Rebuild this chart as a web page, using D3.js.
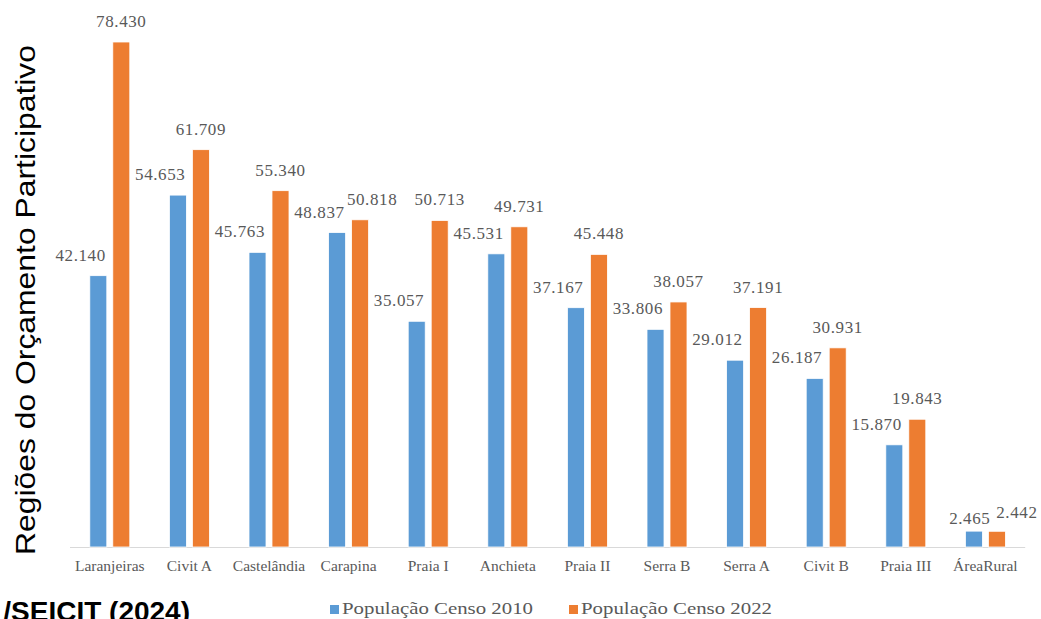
<!DOCTYPE html>
<html>
<head>
<meta charset="utf-8">
<script src="https://cdn.jsdelivr.net/npm/d3@7"></script>
<style>
  body { margin: 0; background: #fff; }
  svg { display: block; }
</style>
</head>
<body>
<div id="chart"></div>
<script>
// categories and values (population)
var regions = ["Laranjeiras", "Civit A", "Castelândia", "Carapina", "Praia I", "Anchieta",
  "Praia II", "Serra B", "Serra A", "Civit B", "Praia III", "ÁreaRural"];
var censo2010 = [42140, 54653, 45763, 48837, 35057, 45531, 37167, 33806, 29012, 26187, 15870, 2465];
var censo2022 = [78430, 61709, 55340, 50818, 50713, 49731, 45448, 38057, 37191, 30931, 19843, 2442];
var seriesNames = ["População Censo 2010", "População Censo 2022"];
var colors = ["#5B9BD5", "#ED7D31"];

var width = 1041, height = 619;
var base = 547;
var serif = "'Liberation Serif', 'Times New Roman', serif";
var sans = "'Liberation Sans', Arial, sans-serif";

var fmt = function(v) { return d3.format(",")(v).replace(/,/g, "."); };

var svg = d3.select("#chart").append("svg")
    .attr("width", width)
    .attr("height", height);

var x0 = d3.scaleBand().domain(regions).range([70, 1025.2]);
var x1 = d3.scaleBand().domain([0, 1])
    .range([x0.bandwidth() / 2 - 20, x0.bandwidth() / 2 + 20])
    .paddingInner(0.26);
var y = d3.scaleLinear().domain([0, 80000]).range([base, base - 505 * 80000 / 78430]);

var rows = regions.map(function(r, i) {
  return { region: r, values: [censo2010[i], censo2022[i]] };
});

// axis line
svg.append("line")
    .attr("x1", x0.range()[0]).attr("x2", x0.range()[1])
    .attr("y1", base + 0.5).attr("y2", base + 0.5)
    .attr("stroke", "#D9D9D9").attr("stroke-width", 1);

var groups = svg.selectAll("g.grp")
    .data(rows)
  .enter().append("g")
    .attr("class", "grp")
    .attr("transform", function(d) { return "translate(" + x0(d.region) + ",0)"; });

groups.selectAll("rect")
    .data(function(d) { return d.values; })
  .enter().append("rect")
    .attr("x", function(d, i) { return x1(i); })
    .attr("y", function(d) { return y(d); })
    .attr("width", x1.bandwidth())
    .attr("height", function(d) { return base - y(d); })
    .attr("fill", function(d, i) { return colors[i]; })
    .attr("stroke", "#fff")
    .attr("stroke-width", 0.8);

// data labels: 2010 sits left of its bar, 2022 centred, a few nudged like the original
var nudge = { "Carapina": [0, 12], "ÁreaRural": [9, 20] };
var nudgeY = { "ÁreaRural": [8, 2] };

groups.each(function(d) {
  var g = d3.select(this);
  d.values.forEach(function(v, i) {
    var n = nudge[d.region] ? nudge[d.region][i] : 0;
    var ny = nudgeY[d.region] ? nudgeY[d.region][i] : 0;
    var xx = i === 0 ? x1(0) + x1.bandwidth() - 1 : x1(1) + x1.bandwidth() / 2;
    g.append("text")
        .attr("x", xx + n)
        .attr("y", y(v) - 15 + ny)
        .attr("text-anchor", i === 0 ? "end" : "middle")
        .attr("font-family", serif)
        .attr("font-size", 17)
        .attr("letter-spacing", "0.6px")
        .attr("fill", "#595959")
        .text(fmt(v));
  });
});

// category labels
svg.selectAll("text.tick-lbl")
    .data(regions)
  .enter().append("text")
    .attr("class", "tick-lbl")
    .attr("x", function(d) { return x0(d) + x0.bandwidth() / 2; })
    .attr("y", 571)
    .attr("text-anchor", "middle")
    .attr("font-family", serif)
    .attr("font-size", 15.5)
    .attr("fill", "#595959")
    .text(function(d) { return d; });

// y title
svg.append("text")
    .attr("transform", "translate(35,300) rotate(-90)")
    .attr("text-anchor", "middle")
    .attr("textLength", 510)
    .attr("lengthAdjust", "spacingAndGlyphs")
    .attr("font-family", sans)
    .attr("font-size", 27)
    .attr("fill", "#000")
    .text("Regiões do Orçamento Participativo");

// legend
var legX = [330, 569];
var leg = svg.selectAll("g.leg-item")
    .data(seriesNames)
  .enter().append("g")
    .attr("class", "leg-item")
    .attr("transform", function(d, i) { return "translate(" + legX[i] + ",605)"; });

leg.append("rect")
    .attr("width", 9).attr("height", 9)
    .attr("fill", function(d, i) { return colors[i]; });

leg.append("text")
    .attr("x", 12)
    .attr("y", 9)
    .attr("textLength", 191)
    .attr("lengthAdjust", "spacingAndGlyphs")
    .attr("font-family", serif)
    .attr("font-size", 17)
    .attr("fill", "#595959")
    .text(function(d) { return d; });

// source note, cut at the page edge as in the original
svg.append("text")
    .attr("x", 190)
    .attr("y", 621)
    .attr("text-anchor", "end")
    .attr("font-family", sans)
    .attr("font-weight", "bold")
    .attr("font-size", 28)
    .attr("fill", "#000")
    .text("/SEICIT (2024)");
</script>
</body>
</html>
